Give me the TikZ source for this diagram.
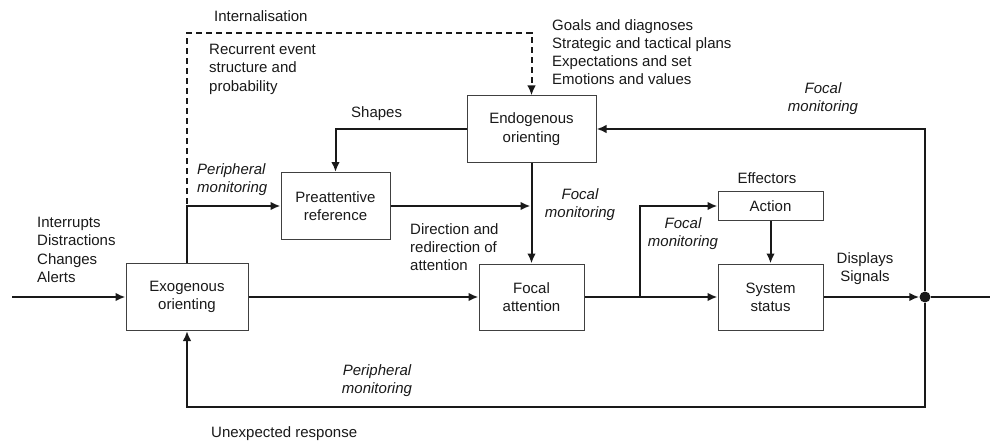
\documentclass[tikz,border=0pt]{standalone}
\usepackage{fontspec}
\setmainfont{Liberation Sans}
\usetikzlibrary{arrows.meta}
\begin{document}
\begin{tikzpicture}[x=1pt,y=-1pt,
  every node/.style={font=\fontsize{15}{18.3}\selectfont, text=black!90},
  blk/.style={draw=black!75, line width=1pt, align=center, inner sep=0pt},
  conn/.style={line width=2pt, draw=black!90},
  arr/.style={conn, -{Latex[length=10pt,width=8.5pt]}},
  dsh/.style={conn, dash pattern=on 6pt off 4pt, -{Latex[length=10pt,width=8.5pt]}},
  lbl/.style={inner sep=0pt, align=left, anchor=north west},
  clbl/.style={inner sep=0pt, align=center, anchor=north},
  it/.style={font=\fontsize{15}{18.3}\selectfont\itshape}
]
\useasboundingbox (0,0) rectangle (990,441);

% boxes
\node[blk, minimum width=122pt, minimum height=67pt] (exo) at (187,297) {Exogenous\\orienting};
\node[blk, minimum width=109pt, minimum height=67pt] (pre) at (335.5,206) {Preattentive\\reference};
\node[blk, minimum width=129pt, minimum height=66pt] (endo) at (531.5,129) {Endogenous\\orienting};
\node[blk, minimum width=105pt, minimum height=66pt] (focal) at (531.5,297) {Focal\\attention};
\node[blk, minimum width=105pt, minimum height=29pt] (action) at (770.5,206) {Action};
\node[blk, minimum width=105pt, minimum height=66pt] (system) at (770.5,297) {System\\status};
\node[circle, fill=black!90, inner sep=0pt, minimum size=11pt] (dot) at (925,297) {};

% coordinates
\coordinate (in) at (12,297);
\coordinate (out) at (990,297);
\coordinate (c1) at (187,206);
\coordinate (d0) at (187,204);
\coordinate (d1) at (187,33);
\coordinate (b) at (640,297);
\coordinate (bl) at (925,407);

% connectors
\draw[arr] (in) -- (exo.west);
\draw[arr] (exo.north) -- (c1) -- (pre.west);
\draw[dsh] (d0) -- (d1) -- (d1 -| endo.north) -- (endo.north);
\draw[arr] (pre.east) -- ([xshift=-1pt]pre.east -| endo.south);
\draw[arr] (endo.south) -- (focal.north);
\draw[arr] (endo.west) -- (endo.west -| pre.north) -- (pre.north);
\draw[arr] (exo.east) -- (focal.west);
\draw[arr] (focal.east) -- (system.west);
\draw[arr] (b) -- (b |- action.west) -- (action.west);
\draw[arr] (action.south) -- (system.north);
\draw[arr] (system.east) -- (dot);
\draw[conn] (dot) -- (out);
\draw[arr] (dot) -- (dot |- endo.east) -- (endo.east);
\draw[arr] (dot) -- (bl) -- (bl -| exo.south) -- (exo.south);

% labels
\node[lbl] (t1) at (214,10) {Internalisation};
\node[lbl] (t2) at (209,44) {Recurrent event\\structure and\\probability};
\node[lbl] (t3) at (552,19) {Goals and diagnoses\\Strategic and tactical plans\\Expectations and set\\Emotions and values};
\node[lbl] (t4) at (351,106) {Shapes};
\node[lbl, it] (t5) at (197,163) {Peripheral\\monitoring};
\node[lbl] (t6) at (37,217) {Interrupts\\Distractions\\Changes\\Alerts};
\node[lbl] (t7) at (410,223) {Direction and\\redirection of\\attention};
\node[clbl, it] (t8) at (580,188) {Focal\\monitoring};
\node[clbl, it] (t9) at (823,82) {Focal\\monitoring};
\node[clbl, it] (t10) at (683,217) {Focal\\monitoring};
\node[clbl] (t11) at (767,172) {Effectors};
\node[clbl] (t12) at (865,252) {Displays\\Signals};
\node[clbl, it] (t13) at (377,364) {Peripheral\\monitoring};
\node[lbl] (t14) at (211,426) {Unexpected response};
\end{tikzpicture}
\end{document}
